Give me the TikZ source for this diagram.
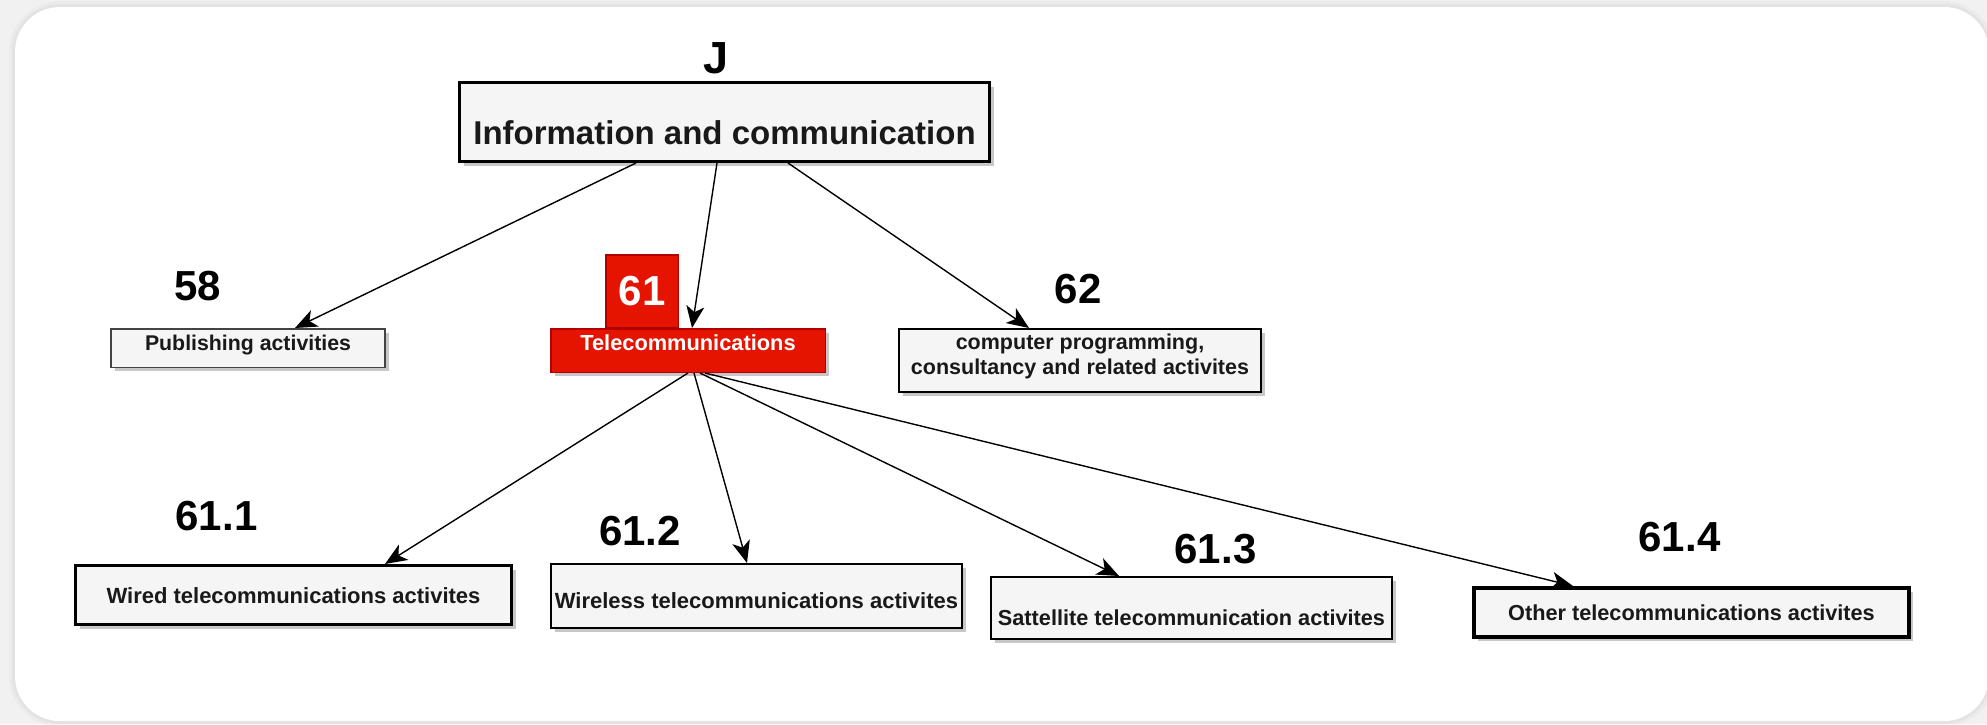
\documentclass[tikz,border=0pt]{standalone}
\usepackage{fontspec}
\setmainfont{Liberation Sans}
\usetikzlibrary{arrows.meta,shadows}

\definecolor{pagebg}{HTML}{F1F1F1}
\definecolor{boxfill}{HTML}{F5F5F5}
\definecolor{telred}{HTML}{E51400}
\definecolor{telredline}{HTML}{B20000}
\definecolor{thinline}{HTML}{444444}

\begin{document}
\begin{tikzpicture}[x=1pt,y=-1pt,
  card/.style={rounded corners=45pt},
  box/.style={rectangle, draw=black, fill=boxfill, inner sep=0pt, align=center,
    text=black!90,
    drop shadow={shadow xshift=4pt, shadow yshift=-4pt, fill=black, opacity=0.22}},
  redbox/.style={rectangle, draw=telredline, fill=telred, inner sep=0pt, align=center,
    text=white, line width=1.5pt},
  boxtext/.style={font=\bfseries\fontsize{#1}{26}\selectfont},
  code/.style={anchor=base, font=\bfseries\fontsize{#1}{#1}\selectfont},
  arr/.style={line width=1.4pt, -{Stealth[length=22pt, width=18pt, inset=6pt]}},
  tb/.style 2 args={text height=#1pt, text depth=#2pt}
]
\useasboundingbox (0,0) rectangle (1987,724);

% page and card
\fill[pagebg] (0,0) rectangle (1987,724);
\fill[black, opacity=0.025, rounded corners=51pt] (9,1) rectangle (1995,727);
\fill[black, opacity=0.03, rounded corners=48pt] (12,4) rectangle (1992,724);
\fill[white, card] (15,7) rectangle (1989,721);

% top level
\node[box, line width=3pt, minimum width=530pt, minimum height=79pt,
      boxtext=33, tb={44}{0}] (J) at (724.5,122) {Information and communication};
\node[code=45] (Jlab) at (716.5,73.5) {J};

% divisions
\node[box, draw=thinline, line width=1.5pt, minimum width=274pt, minimum height=38.5pt,
      boxtext=21.3, tb={14}{10}] (pub) at (248,348) {Publishing activities};
\node[code=42] (publab) at (197.5,300) {58};

\node[redbox, minimum width=72.5pt, minimum height=73pt,
      font=\bfseries\fontsize{42}{42}\selectfont, tb={30}{3}] (tellab) at (642,291.5) {61};
\node[redbox, minimum width=274.5pt, minimum height=43.5pt,
      drop shadow={shadow xshift=4pt, shadow yshift=-4pt, fill=black, opacity=0.22},
      boxtext=21.8, tb={12}{13}] (tel) at (688,350.5) {Telecommunications};

\node[box, line width=2pt, minimum width=362pt, minimum height=63pt,
      font=\bfseries\fontsize{21.5}{24.3}\selectfont, tb={40}{13}] (prog) at (1080,360.5)
      {computer programming,\\consultancy and related activites};
\node[code=42] (proglab) at (1078,303) {62};

% groups of division 61
\node[box, line width=3pt, minimum width=436pt, minimum height=59pt,
      boxtext=22, tb={20}{3.4}] (wired) at (293.5,595) {Wired telecommunications activites};
\node[code=42] (wiredlab) at (216.5,530) {61.1};

\node[box, line width=2pt, minimum width=411pt, minimum height=64pt,
      boxtext=22, tb={25}{0.4}] (wless) at (756.5,596) {Wireless telecommunications activites};
\node[code=42] (wlesslab) at (640,545) {61.2};

\node[box, line width=2pt, minimum width=401pt, minimum height=62pt,
      boxtext=21.7, tb={34}{0}] (sat) at (1191.5,608) {Sattellite telecommunication activites};
\node[code=42] (satlab) at (1215.5,563) {61.3};

\node[box, line width=4pt, minimum width=435pt, minimum height=49pt,
      boxtext=21.7, tb={20}{3.6}] (other) at (1691.5,612.5) {Other telecommunications activites};
\node[code=42] (otherlab) at (1679.5,551.5) {61.4};

% connectors
\draw[arr] ([xshift=-88.5pt]J.south) -- ([xshift=47pt]pub.north);
\draw[arr] ([xshift=-7.5pt]J.south) -- ([xshift=4pt]tel.north);
\draw[arr] ([xshift=63.5pt]J.south) -- ([xshift=-51pt]prog.north);

\draw[arr] (tel.south) -- ([xshift=91.5pt]wired.north);
\draw[arr] ([xshift=6pt]tel.south) -- ([xshift=-9.5pt]wless.north);
\draw[arr] ([xshift=12pt]tel.south) -- ([xshift=-72.5pt]sat.north);
\draw[arr] ([xshift=17pt]tel.south) -- ([xshift=-118.5pt]other.north);
\end{tikzpicture}
\end{document}
